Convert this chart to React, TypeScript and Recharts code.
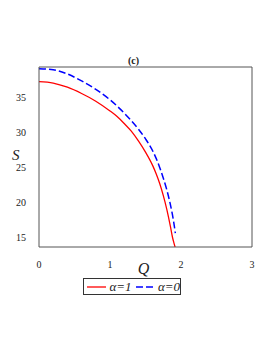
import React from "react";
import { LineChart, Line, XAxis, YAxis, ReferenceLine } from "recharts";

// alpha = 1 (red, solid)
const qRed = [0, 0.2, 0.4, 0.6, 0.8, 1.0, 1.1, 1.2, 1.3, 1.4, 1.5, 1.6, 1.65, 1.7, 1.75, 1.8, 1.85, 1.88, 1.9, 1.917];
const sRed = [37.3, 37.1, 36.5, 35.6, 34.5, 33.1, 32.3, 31.3, 30.2, 28.8, 27.2, 25.3, 24.1, 22.7, 21.0, 19.0, 16.6, 15.0, 14.2, 13.6];

// alpha = 0 (blue, dashed)
const qBlue = [0, 0.2, 0.4, 0.6, 0.8, 1.0, 1.1, 1.2, 1.3, 1.4, 1.5, 1.6, 1.65, 1.7, 1.75, 1.8, 1.85, 1.88, 1.9, 1.92];
const sBlue = [39.15, 39.0, 38.4, 37.4, 36.2, 34.7, 33.8, 32.8, 31.7, 30.5, 29.1, 27.4, 26.3, 25.0, 23.5, 21.8, 19.7, 18.2, 17.0, 15.6];

const xTicks = [0, 1, 2, 3];
const yTicks = [15, 20, 25, 30, 35];

const redData = qRed.map((q, i) => ({ q, s: sRed[i] }));
const blueData = qBlue.map((q, i) => ({ q, s: sBlue[i] }));

const serif = "Liberation Serif";
const frame = "#555";

const XTick = ({ x, y, payload }: any) => (
  <text x={x} y={y + 6} textAnchor="middle" dominantBaseline="hanging" fontFamily={serif} fontSize={10} fill="#222">
    {payload.value}
  </text>
);

const YTick = ({ x, y, payload }: any) => (
  <text x={x - 5} y={y} textAnchor="end" dominantBaseline="central" fontFamily={serif} fontSize={10} fill="#222">
    {payload.value}
  </text>
);

const LegendBox = () => (
  <div
    style={{
      position: "absolute",
      left: 83,
      top: 278,
      display: "flex",
      alignItems: "center",
      border: "1px solid #333",
      height: 17,
      width: 98,
      boxSizing: "border-box",
      fontFamily: serif,
      fontStyle: "italic",
      fontSize: 13,
      paddingLeft: 2,
      color: "#222",
    }}
  >
    <svg width={22} height={10}>
      <line x1={1} y1={5} x2={21} y2={5} stroke="#ff0000" strokeWidth={1.3} />
    </svg>
    <span style={{ marginLeft: 3, marginRight: 3 }}>α=1</span>
    <svg width={22} height={10}>
      <line x1={1} y1={5} x2={21} y2={5} stroke="#0000ff" strokeWidth={1.5} strokeDasharray="7 3" />
    </svg>
    <span style={{ marginLeft: 3 }}>α=0</span>
  </div>
);

export default function App() {
  return (
    <div style={{ position: "absolute", left: 0, top: 0, width: 273, height: 353, background: "#fff" }}>
      <LineChart width={273} height={353} margin={{ top: 67, right: 21, left: 9, bottom: 76 }}>
        <XAxis
          type="number"
          dataKey="q"
          domain={[0, 3]}
          ticks={xTicks}
          tickLine={false}
          height={30}
          axisLine={{ stroke: frame }}
          tick={<XTick />}
          label={{ value: "Q", position: "insideBottom", offset: 3, dx: -2, style: { fontFamily: serif, fontStyle: "italic", fontSize: 16, fill: "#222" } }}
        />
        <YAxis
          type="number"
          domain={[13.6, 39.4]}
          allowDataOverflow
          ticks={yTicks}
          tickLine={false}
          width={30}
          axisLine={{ stroke: frame }}
          tick={<YTick />}
          label={{ value: "S", position: "insideLeft", offset: 3, dy: -2, style: { fontFamily: serif, fontStyle: "italic", fontSize: 15, fill: "#222" } }}
        />
        <ReferenceLine
          y={39.4}
          stroke={frame}
          ifOverflow="visible"
          label={{ value: "(c)", position: "top", offset: 3, dx: -12, style: { fontFamily: serif, fontWeight: "bold", fontSize: 10, fill: "#222" } }}
        />
        <ReferenceLine x={3} stroke={frame} ifOverflow="visible" />
        <Line
          data={redData}
          dataKey="s"
          type="monotone"
          stroke="#ff0000"
          strokeWidth={1.3}
          dot={false}
          isAnimationActive={false}
        />
        <Line
          data={blueData}
          dataKey="s"
          type="monotone"
          stroke="#0000ff"
          strokeWidth={1.5}
          strokeDasharray="7 3"
          dot={false}
          isAnimationActive={false}
        />
      </LineChart>
      <LegendBox />
    </div>
  );
}
